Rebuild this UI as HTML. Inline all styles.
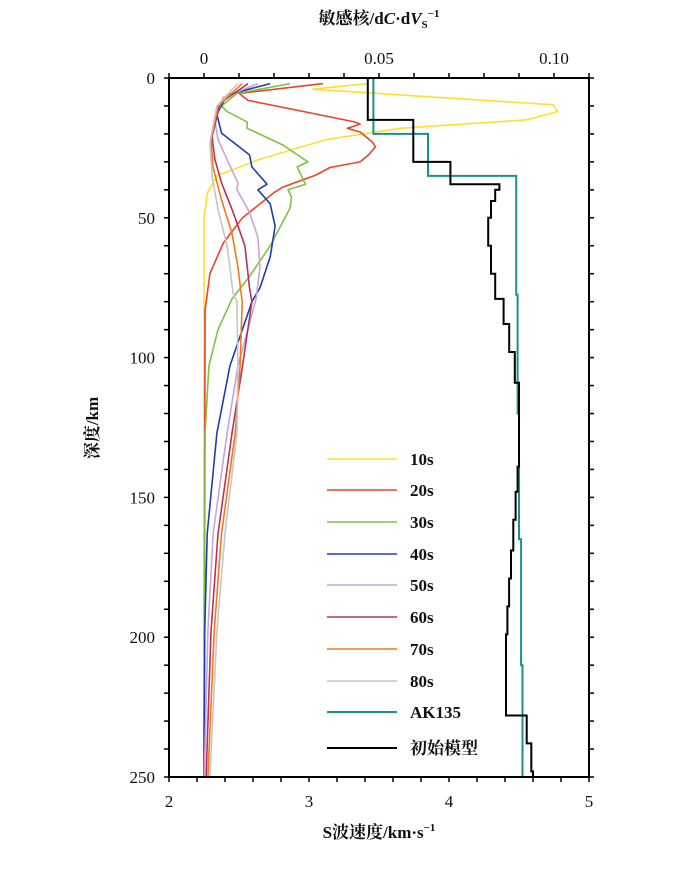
<!DOCTYPE html>
<html><head><meta charset="utf-8"><style>
body{margin:0;background:#fff;}
svg text{font-family:"Liberation Serif","Noto Serif CJK SC",serif;fill:#111;}
</style></head><body>
<svg id="chart" width="674" height="856" viewBox="0 0 674 856" xmlns="http://www.w3.org/2000/svg">
<g id="marks"></g>
<g id="axes"></g>
<g id="legend"></g>
</svg>
<script>
// ---- data ----
const periods = ["10s","20s","30s","40s","50s","60s","70s","80s"];
const colors = ["#ffdf2e","#e8452a","#7dc242","#1f3fa8","#c9a4d6","#b8325a","#f07a1a","#c6c6c6"];
const depth10 = [2,4,9.6,12,15,18,22,29,35,41,50,250];
const kern10 = [0.047,0.031,0.0998,0.101,0.092,0.056,0.035,0.016,0.0037,0.001,0,0];
const depth20 = [2,5.5,8,15.7,16.5,18,19.3,22.8,24.6,27.5,30,32,34.7,39,41,50,59,70,83,250];
const kern20 = [0.034,0.010,0.0126,0.043,0.0446,0.041,0.0446,0.048,0.049,0.047,0.0446,0.036,0.032,0.0226,0.020,0.011,0.0055,0.0017,0.0003,0];
const depth30 = [2,5.5,10,12,15.7,18,24,30,31.8,38,40,42.5,46.5,60,71,79,90,103,127,250];
const kern30 = [0.0246,0.0094,0.005,0.0066,0.0123,0.0123,0.0226,0.0297,0.0266,0.029,0.024,0.025,0.0246,0.0189,0.013,0.008,0.004,0.0014,0.0003,0];
const depth40 = [2,6,13,19.7,27.5,31.8,38,40,45,53,64,75,80,103,127,163,198,250];
const kern40 = [0.0189,0.0066,0.0037,0.005,0.013,0.0137,0.018,0.0154,0.0189,0.0203,0.0189,0.016,0.0137,0.0074,0.0037,0.0009,0.0002,0];
const depth50 = [2,7,15,22,30,37.5,40,48,57,67.6,79,103,127,163,198,250];
const kern50 = [0.0154,0.0054,0.0031,0.004,0.0069,0.0097,0.0094,0.013,0.0154,0.016,0.0149,0.0097,0.0066,0.0026,0.0011,0.0001];
const depth60 = [2,9,21,29,37.5,48,60,75,80,103,127,163,198,250];
const kern60 = [0.0126,0.0046,0.0023,0.0031,0.005,0.0083,0.0117,0.013,0.0137,0.011,0.008,0.004,0.002,0.0006];
const depth70 = [2,10,22,32,43.6,55.5,67.6,80,103,127,163,198,250];
const kern70 = [0.0109,0.004,0.002,0.0026,0.005,0.008,0.0097,0.0109,0.0103,0.0089,0.005,0.0029,0.0011];
const depth80 = [2,10,23,35,47,60,77,80,103,127,163,198,250];
const kern80 = [0.0097,0.0037,0.0017,0.0023,0.004,0.0066,0.0083,0.0094,0.0097,0.0094,0.006,0.0037,0.0017];
const kernDepths = [depth10,depth20,depth30,depth40,depth50,depth60,depth70,depth80];
const kernVals = [kern10,kern20,kern30,kern40,kern50,kern60,kern70,kern80];
// AK135 step model: layer tops/bottoms and velocity
const akTop = [0,20,35,77.5,120,165,210];
const akBot = [20,35,77.5,120,165,210,250];
const akVs = [3.46,3.85,4.48,4.49,4.50,4.515,4.525];
// initial model
const initTop = [0,15,30,38,40,44,50,60,70,79,88,98,109,139,148,158,169,179,189,199,228,238,248];
const initBot = [15,30,38,40,44,50,60,70,79,88,98,109,139,148,158,169,179,189,199,228,238,248,250];
const initVs = [3.42,3.745,4.01,4.36,4.33,4.30,4.28,4.30,4.33,4.39,4.43,4.47,4.50,4.49,4.476,4.459,4.443,4.429,4.417,4.407,4.555,4.588,4.60];
const vTicks = ["2","3","4","5"];
const kTicks = ["0","0.05","0.10"];
const dTicks = ["0","50","100","150","200","250"];

// ---- scales ----
const L=169,R=589,T=78,B=777;
const xV = v => L + (v-2)/3*(R-L);
const xK = k => L + (k+0.01)/0.12*(R-L);
const yD = d => T + d/250*(B-T);
const NS="http://www.w3.org/2000/svg";
function mk(tag,attrs,parent){const e=document.createElementNS(NS,tag);for(const k in attrs)e.setAttribute(k,attrs[k]);parent.appendChild(e);return e;}
const marks=document.getElementById('marks'),axes=document.getElementById('axes'),leg=document.getElementById('legend');

// kernels
kernDepths.forEach((ds,i)=>{
  const pts=ds.map((d,j)=>xK(kernVals[i][j]).toFixed(1)+","+yD(d).toFixed(1)).join(" ");
  const p=mk('polyline',{points:pts,fill:'none',stroke:colors[i],'stroke-width':1.6,'stroke-linejoin':'round'},marks);
  
  
});
function stepPts(tops,bots,vs){const a=[];tops.forEach((t,i)=>{a.push(xV(vs[i]).toFixed(1)+","+yD(t).toFixed(1));a.push(xV(vs[i]).toFixed(1)+","+yD(bots[i]).toFixed(1));});return a.join(" ");}
const ak=mk('polyline',{points:stepPts(akTop,akBot,akVs),fill:'none',stroke:'#1a9090','stroke-width':2},marks);


const im=mk('polyline',{points:stepPts(initTop,initBot,initVs),fill:'none',stroke:'#000','stroke-width':2},marks);



// frame
const fr=mk('rect',{x:L,y:T,width:R-L,height:B-T,fill:'none',stroke:'#000','stroke-width':2},axes);


// bottom/top minor ticks
for(let i=0;i<=15;i++){const x=L+i*(R-L)/15;mk('line',{x1:x,x2:x,y1:B,y2:B+5,stroke:'#000','stroke-width':1.5},axes);}
for(let i=0;i<=12;i++){const x=L+i*(R-L)/12;mk('line',{x1:x,x2:x,y1:T,y2:T-5,stroke:'#000','stroke-width':1.5},axes);}
for(let i=0;i<=25;i++){const y=yD(i*10);mk('line',{x1:L,x2:L-5,y1:y,y2:y,stroke:'#000','stroke-width':1.5},axes);mk('line',{x1:R,x2:R+5,y1:y,y2:y,stroke:'#000','stroke-width':1.5},axes);}
vTicks.forEach(t=>{const e=mk('text',{x:xV(+t),y:B+30,'text-anchor':'middle','font-size':17},axes);e.textContent=t;
  
  });
kTicks.forEach(t=>{const e=mk('text',{x:xK(+t),y:T-14,'text-anchor':'middle','font-size':17},axes);e.textContent=t;
  
  });
dTicks.forEach(t=>{const e=mk('text',{x:L-14,y:yD(+t)+6,'text-anchor':'end','font-size':17},axes);e.textContent=t;
  
  });

// legend
const legLabels=periods.concat(["AK135","初始模型"]);
const legColors=colors.concat(["#1a9090","#000"]);
const legY=[459,490,522,554,585,617,649,681,712,748];
legLabels.forEach((lab,i)=>{
  const g=mk('g',{},leg);
  
  
  mk('line',{x1:327,x2:397,y1:legY[i],y2:legY[i],stroke:legColors[i],'stroke-width':i>=8?2:1.6},g);
  const t=mk('text',{x:410,y:legY[i]+6,'font-size':17,'font-weight':'bold'},g);t.textContent=lab;
});
</script>
<svg width="0" height="0"></svg>
<div style="position:absolute;left:0;top:0;width:674px;height:856px;pointer-events:none">
<svg width="674" height="856" xmlns="http://www.w3.org/2000/svg">
<text x="379" y="838" text-anchor="middle" font-size="17" font-weight="bold" font-family="Liberation Serif, Noto Serif CJK SC, serif">S波速度/km·s<tspan font-size="11" dy="-7">−1</tspan></text>
<text x="379" y="24" text-anchor="middle" font-size="17" font-weight="bold" font-family="Liberation Serif, Noto Serif CJK SC, serif">敏感核/d<tspan font-style="italic">C</tspan>·d<tspan font-style="italic">V</tspan><tspan font-size="11" dy="4">S</tspan><tspan font-size="11" dy="-11">−1</tspan></text>
<text transform="translate(98,428) rotate(-90)" text-anchor="middle" font-size="17" font-weight="bold" font-family="Liberation Serif, Noto Serif CJK SC, serif">深度/km</text>
</svg></div>
</body></html>
